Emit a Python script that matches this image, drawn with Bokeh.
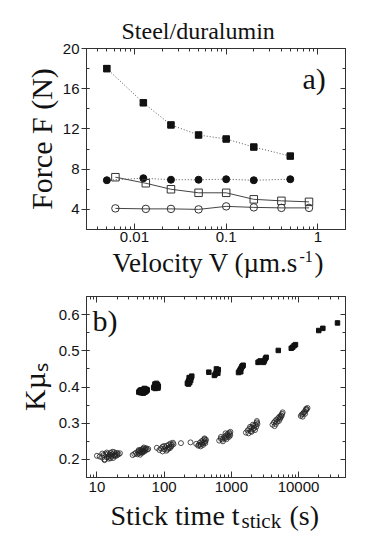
from math import pi
from bokeh.plotting import figure
from bokeh.models import (ColumnDataSource, Label, LinearAxis, LogAxis, FixedTicker,
                          SingleIntervalTicker, CustomJSTickFormatter, Whisker, TeeHead, Range1d)
from bokeh.layouts import column
from bokeh.embed import file_html
from bokeh.resources import INLINE

# ---------------- data: panel a) ----------------
vel_a = [0.005, 0.0125, 0.025, 0.05, 0.1, 0.2, 0.5]
force_sq_filled = [18.0, 14.6, 12.4, 11.4, 11.0, 10.2, 9.3]
force_sq_err = [0.3, 0.15, 0.15, 0.15, 0.15, 0.12, 0.12]
force_circ_filled = [6.9, 7.1, 6.95, 6.95, 7.0, 6.9, 7.0]
vel_b = [0.0062, 0.0133, 0.025, 0.05, 0.1, 0.2, 0.4, 0.8]
force_sq_open = [7.2, 6.6, 6.0, 5.65, 5.65, 5.0, 4.85, 4.75]
force_circ_open = [4.1, 4.05, 4.05, 4.0, 4.3, 4.2, 4.15, 4.15]
vel_ticks = [0.01, 0.1, 1]
force_ticks_interval = 4

# ---------------- data: panel b) ----------------
t_open = [10, 11, 12, 12.5, 13, 13.5, 14, 14.5, 15, 15, 16, 16.5, 17, 17.5, 18, 18.5, 19, 20, 21, 22,
          13, 14, 15.5, 17, 19, 12, 16, 18, 20, 15,
          34, 36, 38, 40, 41, 42, 43, 44, 45, 46, 47, 48, 49, 50, 51, 52, 53, 54, 56, 58, 44, 47, 50, 42, 48,
          78, 85, 90, 95, 100, 105, 108, 110, 115, 118, 120, 125, 128, 130, 135, 138, 100, 112, 122, 95,
          178, 247,
          300, 320, 340, 350, 360, 370, 380, 390, 400, 410, 420, 350, 380, 400, 330, 410,
          660, 700, 740, 780, 800, 830, 860, 880, 900, 930, 950, 970, 750, 850, 920, 820, 700, 960,
          1650, 1750, 1850, 1950, 2000, 2100, 2150, 2200, 2300, 2350, 2400, 2450, 1800, 2000, 2250, 2400, 1900, 2100,
          4100, 4300, 4500, 4700, 4800, 5000, 5200, 5300, 5500, 5700, 5800, 4600, 5100, 5400, 4400, 5600,
          10800, 11200, 11600, 12000, 12400, 12800, 13200, 13600, 11500, 12500, 13000]
k_open = [.210, .208, .205, .212, .200, .214, .206, .216, .202, .210, .218, .208, .214, .204, .220, .212, .216, .218, .214, .217,
          .198, .219, .213, .221, .209, .216, .203, .211, .212, .207,
          .212, .215, .218, .214, .222, .217, .224, .219, .226, .221, .228, .223, .230, .225, .222, .229, .226, .231, .227, .229, .213, .218, .233, .226, .220,
          .232, .226, .230, .235, .228, .233, .224, .238, .230, .241, .234, .244, .236, .240, .246, .242, .237, .227, .231, .222,
          .245, .247,
          .243, .238, .246, .241, .250, .244, .253, .247, .256, .250, .254, .236, .240, .258, .240, .245,
          .252, .257, .255, .262, .258, .266, .262, .270, .266, .274, .270, .276, .250, .256, .262, .272, .262, .266,
          .274, .280, .284, .278, .288, .283, .292, .287, .296, .290, .302, .298, .272, .276, .281, .306, .290, .296,
          .296, .302, .306, .310, .304, .314, .318, .312, .322, .326, .330, .298, .306, .316, .292, .320,
          .320, .324, .326, .330, .332, .336, .338, .342, .318, .326, .340]
t_filled = [42, 44, 45, 46, 47, 48, 49, 50, 51, 52, 53, 54, 55, 56, 46, 48, 50, 52, 54, 44, 49, 51,
            70, 72, 74, 76, 78, 80, 82, 73, 77, 81,
            222, 228, 234, 240, 246, 252, 258, 236, 248, 230,
            463,
            560, 580, 600, 620, 640, 600, 630,
            1280, 1320, 1360, 1400, 1440, 1500, 1380, 1460,
            2500, 2600, 2700, 3000, 3100, 3200, 3300,
            5000,
            7800, 8200, 8600, 9000,
            20000, 23000, 38000]
k_filled = [.386, .388, .384, .390, .386, .392, .388, .390, .386, .392, .388, .394, .390, .392, .392, .385, .394, .386, .389, .391, .383, .396,
            .398, .402, .396, .404, .400, .406, .402, .408, .410, .397,
            .410, .414, .418, .412, .422, .426, .430, .426, .418, .408,
            .441,
            .432, .436, .440, .444, .448, .450, .438,
            .440, .444, .448, .452, .456, .460, .442, .458,
            .468, .470, .472, .468, .472, .478, .482,
            .501,
            .507, .510, .514, .517,
            .556, .562, .577]
time_ticks = [10, 100, 1000, 10000]
k_ticks_interval = 0.1

SERIF = "Liberation Serif"
SANS = "Liberation Sans"
AX = "#333333"
TXT = "#111111"
W = 382
BL, BR = 86, 37


def minor_log(lo_exp, hi_exp, lo, hi):
    out = []
    for e in range(lo_exp, hi_exp + 1):
        for m in range(2, 10):
            v = m * 10.0 ** e
            if lo <= v <= hi:
                out.append(v)
    return out


def style_axis(ax, labels=True, major_in=0, major_out=0, minor_in=3, minor_out=0, standoff=5):
    ax.axis_line_color = AX
    ax.axis_line_width = 1
    ax.major_tick_line_color = AX
    ax.minor_tick_line_color = AX
    ax.major_tick_in = major_in
    ax.major_tick_out = major_out
    ax.minor_tick_in = minor_in
    ax.minor_tick_out = minor_out
    ax.major_label_standoff = standoff
    ax.major_label_text_font = SANS
    if labels:
        ax.major_label_text_color = TXT
        ax.major_label_text_font_size = "15px"
    else:
        ax.major_label_text_color = None
        ax.major_label_text_font_size = "6px"


def lab(p, text, x, y, size, font=SERIF, align="left", angle=0.0):
    p.add_layout(Label(x=x, y=y, x_units="screen", y_units="screen", text=text,
                       text_font=font, text_font_size=size, text_color=TXT,
                       text_align=align, text_baseline="alphabetic", angle=angle))


def text_fig(h):
    f = figure(width=W, height=h, x_range=Range1d(0, 1), y_range=Range1d(0, 1),
               x_axis_location=None, y_axis_location=None, output_backend="svg",
               toolbar_location=None, min_border_left=BL, min_border_right=BR,
               min_border_top=0, min_border_bottom=0)
    f.grid.visible = False
    f.outline_line_color = None
    return f


fmt = "return tick.toString();"

# ================= panel a =================
xr1 = (0.003, 2)
p1 = figure(width=W, height=248, x_axis_type="log", x_range=Range1d(*xr1), y_range=Range1d(2, 20),
            output_backend="svg", toolbar_location=None,
            min_border_left=BL, min_border_right=BR, min_border_top=48, min_border_bottom=19)
p1.grid.visible = False
p1.outline_line_color = AX
p1.title.text = "Steel/duralumin"
p1.title.text_font = SERIF
p1.title.text_font_size = "24px"
p1.title.text_font_style = "normal"
p1.title.text_color = TXT
p1.title.align = "left"
p1.title.offset = 35

xt1 = FixedTicker(ticks=vel_ticks, minor_ticks=minor_log(-3, 0, *xr1))
yt1 = SingleIntervalTicker(interval=force_ticks_interval, num_minor_ticks=2)
p1.xaxis.ticker = xt1
p1.xaxis.formatter = CustomJSTickFormatter(code=fmt)
p1.yaxis.ticker = yt1
style_axis(p1.xaxis[0], major_in=6, minor_in=3, standoff=2)
style_axis(p1.yaxis[0], major_in=3, major_out=5, minor_in=3, standoff=2)
p1.yaxis.axis_label = "Force F (N)"
p1.yaxis.axis_label_text_font = SERIF
p1.yaxis.axis_label_text_font_size = "30px"
p1.yaxis.axis_label_text_font_style = "normal"
p1.yaxis.axis_label_text_color = TXT
p1.yaxis.axis_label_standoff = 2
top1 = LogAxis(ticker=xt1)
style_axis(top1, labels=False, major_in=6, minor_in=3, standoff=0)
right1 = LinearAxis(ticker=yt1)
style_axis(right1, labels=False, major_in=5, minor_in=3, standoff=0)
p1.add_layout(top1, "above")
p1.add_layout(right1, "right")

p1.line(vel_a, force_sq_filled, line_color="#555555", line_width=1, line_dash="1 2")
p1.line(vel_a, force_circ_filled, line_color="#555555", line_width=1, line_dash="1 2")
p1.line(vel_b, force_sq_open, line_color="#444444", line_width=1)
p1.line(vel_b, force_circ_open, line_color="#444444", line_width=1)

err_src = ColumnDataSource(dict(x=vel_a,
                                upper=[f + e for f, e in zip(force_sq_filled, force_sq_err)],
                                lower=[f - e for f, e in zip(force_sq_filled, force_sq_err)]))
p1.add_layout(Whisker(source=err_src, base="x", upper="upper", lower="lower", line_color="#222222",
                      upper_head=TeeHead(size=7, line_color="#222222"),
                      lower_head=TeeHead(size=7, line_color="#222222")))

p1.scatter(vel_a, force_sq_filled, marker="square", size=6.5, fill_color="#111111", line_color="#111111")
p1.scatter(vel_a, force_circ_filled, marker="circle", size=7, fill_color="#111111", line_color="#111111")
p1.scatter(vel_b, force_sq_open, marker="square", size=7.5, fill_color=None, line_color="#333333", line_width=1)
p1.scatter(vel_b, force_circ_open, marker="circle", size=7.5, fill_color=None, line_color="#333333", line_width=1)

lab(p1, "a)", 216, 151, "30px")

# ================= velocity axis title (frame-relative x) =================
tv = text_fig(35)
lab(tv, "Velocity V (\u00b5m.s", 26, 21, "27px")
lab(tv, "-1", 213, 27, "16px")
lab(tv, ")", 228, 21, "27px")

# ================= panel b =================
xr2 = (7, 50000)
p2 = figure(width=W, height=215, x_axis_type="log", x_range=Range1d(*xr2), y_range=Range1d(0.15, 0.65),
            output_backend="svg", toolbar_location=None,
            min_border_left=BL, min_border_right=BR, min_border_top=13, min_border_bottom=21)
p2.grid.visible = False
p2.outline_line_color = AX
xt2 = FixedTicker(ticks=time_ticks, minor_ticks=minor_log(0, 4, *xr2))
yt2 = SingleIntervalTicker(interval=k_ticks_interval, num_minor_ticks=2)
p2.xaxis.ticker = xt2
p2.xaxis.formatter = CustomJSTickFormatter(code=fmt)
p2.yaxis.ticker = yt2
style_axis(p2.xaxis[0], major_in=6, minor_in=3, standoff=4)
style_axis(p2.yaxis[0], major_in=3, major_out=5, minor_in=3, standoff=2)
p2.yaxis.axis_label = "K\u00b5\u209b"
p2.yaxis.axis_label_text_font = SERIF
p2.yaxis.axis_label_text_font_size = "30px"
p2.yaxis.axis_label_text_font_style = "normal"
p2.yaxis.axis_label_text_color = TXT
p2.yaxis.axis_label_standoff = 5
top2 = LogAxis(ticker=xt2)
style_axis(top2, labels=False, major_in=6, minor_in=3, standoff=0)
right2 = LinearAxis(ticker=yt2)
style_axis(right2, labels=False, major_in=5, minor_in=3, standoff=0)
p2.add_layout(top2, "above")
p2.add_layout(right2, "right")

p2.scatter(t_open, k_open, marker="circle", size=5, fill_color=None, line_color="#222222", line_width=0.8)
p2.scatter(t_filled, k_filled, marker="square", size=4.5, fill_color="#111111", line_color="#111111")

lab(p2, "b)", 6, 157, "30px")

# ================= stick time axis title (frame-relative x) =================
ts = text_fig(42)
lab(ts, "Stick time t", 24, 25, "28px")
lab(ts, "stick", 155, 20, "21px")
lab(ts, "(s)", 203, 25, "28px")

layout = column(p1, tv, p2, ts)
open("out.html", "w").write(file_html(layout, INLINE))
